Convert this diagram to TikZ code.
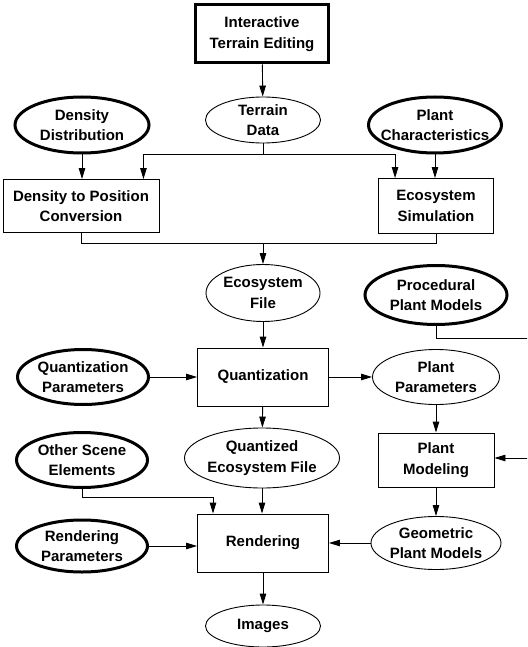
\documentclass[tikz,border=0pt]{standalone}
\usepackage{fontspec}
\setmainfont{Liberation Sans}
\usepackage{tikz}
\usetikzlibrary{shapes.geometric,arrows.meta}

\tikzset{
  flow/every node/.style={align=center,font=\fontsize{15}{20.5}\selectfont\bfseries},
  flow/process/.style={flow/every node,draw,line width=0.9pt,inner sep=0pt},
  flow/edit/.style={flow/process,line width=3pt},
  flow/data/.style={flow/every node,draw,ellipse,line width=0.9pt,inner xsep=-40pt,inner ysep=-20pt},
  flow/input/.style={flow/data,line width=3pt},
  flow/link/.style={line width=0.9pt},
  flow/arrow/.style={flow/link,-{Triangle[length=11pt,width=6.5pt]}}
}

\begin{document}
\begin{tikzpicture}[x=1pt,y=-1pt]
\useasboundingbox (0,0) rectangle (527,647);
\clip (0,0) rectangle (527,647);
\node[flow/edit,minimum width=133pt,minimum height=58pt] (editing) at (262,34) {Interactive\\Terrain Editing};
\node[flow/data,minimum width=115pt,minimum height=46pt] (terrain) at (263,120) {Terrain\\Data};
\node[flow/input,minimum width=134pt,minimum height=56pt] (density) at (82,125) {Density\\Distribution};
\node[flow/input,minimum width=133pt,minimum height=56pt] (plantchar) at (435,125) {Plant\\Characteristics};
\node[flow/process,minimum width=156pt,minimum height=53pt] (conversion) at (81,206) {Density to Position\\Conversion};
\node[flow/process,minimum width=115pt,minimum height=55pt] (simulation) at (436,206) {Ecosystem\\Simulation};
\node[flow/data,minimum width=114pt,minimum height=57pt] (ecofile) at (263,293) {Ecosystem\\File};
\node[flow/input,minimum width=142pt,minimum height=59pt] (procedural) at (436,295) {Procedural\\Plant Models};
\node[flow/process,minimum width=131pt,minimum height=58pt] (quantization) at (263,377) {Quantization};
\node[flow/input,minimum width=131pt,minimum height=55pt] (quantparams) at (83,377) {Quantization\\Parameters};
\node[flow/data,minimum width=127pt,minimum height=55pt] (plantparams) at (436,377) {Plant\\Parameters};
\node[flow/data,minimum width=155pt,minimum height=60pt] (quantfile) at (262,458) {Quantized\\Ecosystem File};
\node[flow/input,minimum width=131pt,minimum height=55pt] (scene) at (82,460) {Other Scene\\Elements};
\node[flow/process,minimum width=116pt,minimum height=54pt] (modeling) at (436,460) {Plant\\Modeling};
\node[flow/process,minimum width=131pt,minimum height=58pt] (rendering) at (263,543) {Rendering};
\node[flow/input,minimum width=131pt,minimum height=52pt] (renderparams) at (82,546) {Rendering\\Parameters};
\node[flow/data,minimum width=130pt,minimum height=53pt] (geometric) at (436,543) {Geometric\\Plant Models};
\node[flow/data,minimum width=115pt,minimum height=42pt] (images) at (263,626) {Images};
\coordinate (split) at (263,154);
\coordinate (merge) at (263,243);
\coordinate (outA) at (545,338);
\coordinate (outB) at (545,458);
\draw[flow/arrow] (editing) -- (terrain);
\draw[flow/link] (terrain) -- (split);
\draw[flow/arrow] (split) -| ([xshift=-16pt]conversion.north east);
\draw[flow/arrow] (split) -| ([xshift=17pt]simulation.north west);
\draw[flow/arrow] (density) -- (density |- conversion.north);
\draw[flow/arrow] (plantchar) -- (plantchar |- simulation.north);
\draw[flow/link] (conversion.south) -- ++(0,10) -| (simulation.south);
\draw[flow/arrow] (merge) -- (ecofile);
\draw[flow/arrow] (ecofile) -- (quantization);
\draw[flow/arrow] (quantparams) -- (quantization);
\draw[flow/arrow] (quantization) -- (plantparams);
\draw[flow/arrow] (quantization) -- (quantfile);
\draw[flow/arrow] (plantparams) -- (modeling);
\draw[flow/arrow] (procedural.south) |- (outA) -- (outB) -- (modeling.east |- outB);
\draw[flow/arrow] (modeling) -- (geometric);
\draw[flow/arrow] (scene.south) -- ++(0,8) -| ([xshift=-50pt]rendering.north);
\draw[flow/arrow] (quantfile) -- (quantfile |- rendering.north);
\draw[flow/arrow] (renderparams) -- (renderparams -| rendering.west);
\draw[flow/arrow] (geometric) -- (rendering);
\draw[flow/arrow] (rendering) -- (images);
\end{tikzpicture}
\end{document}
